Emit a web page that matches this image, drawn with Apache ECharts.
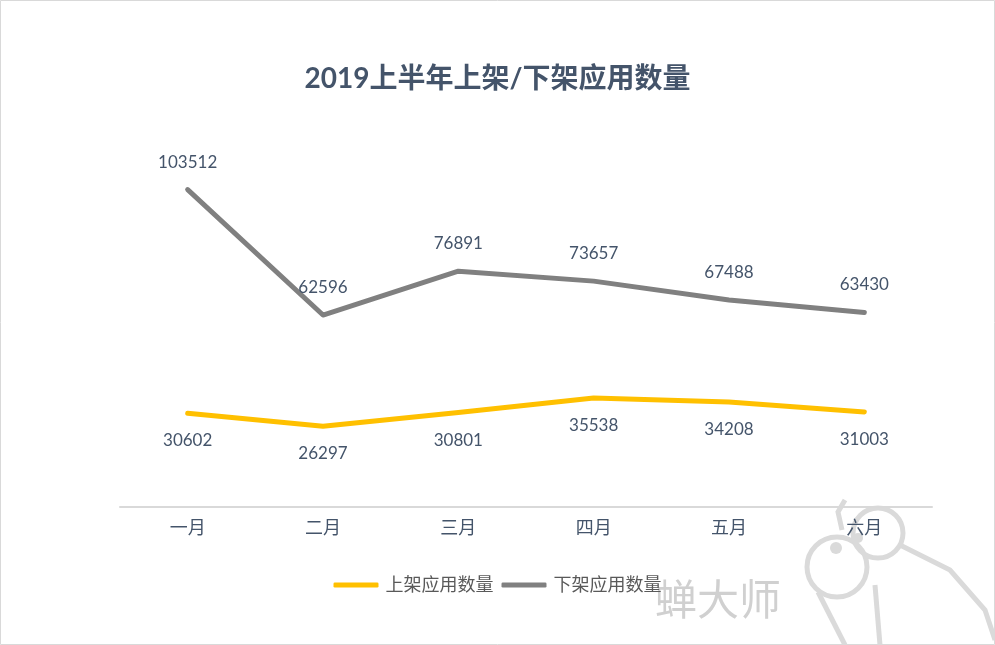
<!DOCTYPE html>
<html><head><meta charset="utf-8">
<script src="https://cdn.jsdelivr.net/npm/echarts@6/dist/echarts.min.js"></script>
<style>html,body{margin:0;padding:0;background:#fff}#c{width:995px;height:645px}</style>
</head><body><div id="c"></div>
<script>
const titleText = '2019上半年上架/下架应用数量';
const categories = ['一月','二月','三月','四月','五月','六月'];
const seriesNames = ['上架应用数量','下架应用数量'];
const listed = [30602, 26297, 30801, 35538, 34208, 31003];
const delisted = [103512, 62596, 76891, 73657, 67488, 63430];

const FONT = "Lato, 'Noto Sans CJK SC', sans-serif";
const TXT = '#44546A';
const WM = '#DADADA';
const chart = echarts.init(document.getElementById('c'));
chart.setOption({
  backgroundColor: '#fff',
  animation: false,
  title: {
    text: titleText, left: 'center', top: 60,
    textStyle: { fontFamily: FONT, fontSize: 28, fontWeight: 'bold', color: TXT }
  },
  legend: {
    bottom: 46, left: 'center', itemWidth: 45, itemHeight: 5, itemGap: 8,
    icon: 'roundRect',
    textStyle: { fontFamily: FONT, fontSize: 18, color: '#595959', padding: [0,0,0,2] },
    data: [
      { name: seriesNames[0], itemStyle:{color:'#FFC000'} },
      { name: seriesNames[1], itemStyle:{color:'#808080'} }
    ]
  },
  grid: { left: 120, right: 63, top: 139, bottom: 138 },
  xAxis: {
    type: 'category', data: categories, boundaryGap: true,
    axisLine: { lineStyle: { color: '#D9D9D9', width: 2 } },
    axisTick: { show: false },
    axisLabel: { fontFamily: FONT, fontSize: 18, color: TXT, margin: 12 }
  },
  yAxis: {
    type: 'value', min: 0, max: 120000, show: false, splitLine: { show: false }
  },
  graphic: [
    { type: 'rect', shape: { x: 0.5, y: 0.5, width: 994, height: 644 }, style: { fill: 'none', stroke: '#D9D9D9', lineWidth: 1 }, z: 100 },
    { type: 'text', left: 655, top: 578, style: { text: '蝉大师', fontFamily: "'Noto Sans CJK SC'", fontSize: 42, fill: '#D0D0D0' }, z: -1 },
    { type: 'circle', shape: { cx: 837, cy: 567, r: 30 }, style: { fill: 'none', stroke: WM, lineWidth: 5 }, z: -1 },
    { type: 'circle', shape: { cx: 878, cy: 533, r: 25 }, style: { fill: 'none', stroke: WM, lineWidth: 5 }, z: -1 },
    { type: 'circle', shape: { cx: 836, cy: 548, r: 6 }, style: { fill: WM }, z: -1 },
    { type: 'circle', shape: { cx: 858, cy: 538, r: 5 }, style: { fill: WM }, z: -1 },
    { type: 'polyline', shape: { points: [[900,545],[950,570],[985,610],[995,640]] }, style: { fill: 'none', stroke: WM, lineWidth: 5 }, z: -1 },
    { type: 'polyline', shape: { points: [[818,592],[845,645]] }, style: { fill: 'none', stroke: WM, lineWidth: 5 }, z: -1 },
    { type: 'polyline', shape: { points: [[875,585],[880,645]] }, style: { fill: 'none', stroke: WM, lineWidth: 5 }, z: -1 },
    { type: 'polyline', shape: { points: [[845,500],[838,512],[842,530]] }, style: { fill: 'none', stroke: WM, lineWidth: 5 }, z: -1 }
  ],
  series: [
    {
      name: seriesNames[0], type: 'line', data: listed, showSymbol: true, symbol: 'circle', symbolSize: 0,
      lineStyle: { color: '#FFC000', width: 5, cap: 'round', join: 'round' }, itemStyle: { color: '#FFC000' },
      label: { show: true, position: 'bottom', distance: 19, fontFamily: FONT, fontSize: 17, color: TXT }
    },
    {
      name: seriesNames[1], type: 'line', data: delisted, showSymbol: true, symbol: 'circle', symbolSize: 0,
      lineStyle: { color: '#808080', width: 5, cap: 'round', join: 'round' }, itemStyle: { color: '#808080' },
      label: { show: true, position: 'top', distance: 19, fontFamily: FONT, fontSize: 17, color: TXT }
    }
  ]
});
</script></body></html>
